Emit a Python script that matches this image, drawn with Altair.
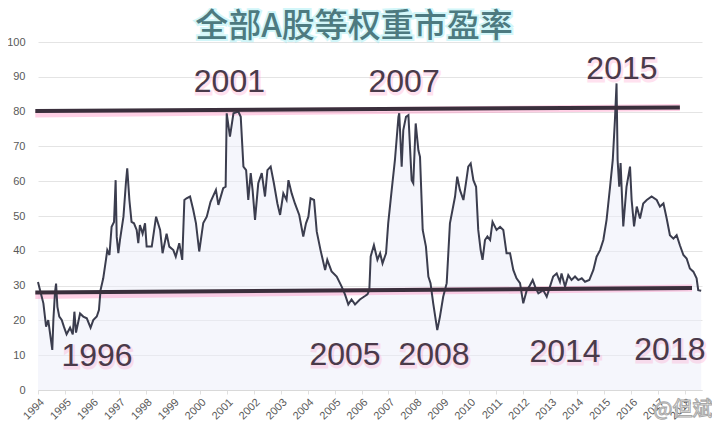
import altair as alt
import pandas as pd

# ---- data ----
years = [
    1994.00, 1994.07, 1994.20, 1994.30, 1994.38, 1994.53, 1994.57, 1994.63, 1994.67, 1994.72,
    1994.79, 1994.88, 1994.96, 1995.06, 1995.19, 1995.29, 1995.35, 1995.41, 1995.56, 1995.68,
    1995.81, 1995.95, 1996.05, 1996.18, 1996.26, 1996.32, 1996.42, 1996.52, 1996.57, 1996.65,
    1996.73, 1996.82, 1996.88, 1996.92, 1996.98, 1997.04, 1997.17, 1997.26, 1997.31, 1997.39,
    1997.47, 1997.56, 1997.66, 1997.72, 1997.78, 1997.88, 1997.97, 1998.03, 1998.22, 1998.38,
    1998.53, 1998.62, 1998.77, 1998.87, 1999.02, 1999.11, 1999.24, 1999.35, 1999.43, 1999.51,
    1999.64, 1999.76, 1999.86, 1999.98, 2000.13, 2000.26, 2000.40, 2000.60, 2000.69, 2000.87,
    2000.96, 2001.00, 2001.12, 2001.25, 2001.43, 2001.52, 2001.62, 2001.72, 2001.80, 2001.89,
    2001.96, 2002.05, 2002.17, 2002.30, 2002.42, 2002.51, 2002.63, 2002.75, 2002.88, 2002.98,
    2003.10, 2003.22, 2003.29, 2003.41, 2003.53, 2003.69, 2003.84, 2003.94, 2004.03, 2004.11,
    2004.24, 2004.34, 2004.48, 2004.65, 2004.73, 2004.89, 2005.08, 2005.26, 2005.39, 2005.51,
    2005.63, 2005.76, 2005.94, 2006.13, 2006.22, 2006.29, 2006.34, 2006.46, 2006.59, 2006.69,
    2006.78, 2006.91, 2006.99, 2007.12, 2007.24, 2007.37, 2007.40, 2007.49, 2007.55, 2007.65,
    2007.74, 2007.86, 2007.92, 2008.01, 2008.11, 2008.17, 2008.27, 2008.39, 2008.48, 2008.56,
    2008.66, 2008.81, 2008.91, 2009.03, 2009.16, 2009.28, 2009.47, 2009.55, 2009.65, 2009.78,
    2009.88, 2009.96, 2010.05, 2010.15, 2010.25, 2010.33, 2010.42, 2010.49, 2010.58, 2010.67,
    2010.77, 2010.86, 2011.01, 2011.14, 2011.26, 2011.38, 2011.51, 2011.63, 2011.75, 2011.88,
    2012.00, 2012.13, 2012.22, 2012.35, 2012.45, 2012.56, 2012.74, 2012.87, 2012.99, 2013.11,
    2013.24, 2013.36, 2013.42, 2013.55, 2013.67, 2013.79, 2013.92, 2014.04, 2014.17, 2014.29,
    2014.45, 2014.60, 2014.72, 2014.85, 2014.97, 2015.09, 2015.22, 2015.32, 2015.40, 2015.46,
    2015.50, 2015.56, 2015.61, 2015.71, 2015.83, 2015.96, 2016.02, 2016.11, 2016.21, 2016.33,
    2016.45, 2016.58, 2016.76, 2016.95, 2017.07, 2017.20, 2017.32, 2017.44, 2017.57, 2017.69,
    2017.81, 2017.94, 2018.06, 2018.18, 2018.31, 2018.43, 2018.49, 2018.60,
]
pe_values = [
    31.0, 28.9, 24.9, 18.2, 20.1, 11.5, 20.1, 28.0, 30.6, 23.9,
    21.1, 20.1, 18.2, 16.0, 17.9, 16.0, 22.5, 16.5, 22.0, 21.1,
    20.6, 17.9, 20.1, 21.1, 23.0, 28.7, 32.1, 37.4, 40.2, 38.8,
    46.9, 48.3, 60.3, 44.0, 39.3, 43.1, 49.8, 59.4, 63.7, 54.6,
    48.3, 47.9, 46.0, 42.2, 47.4, 44.9, 47.9, 41.2, 41.2, 49.8,
    46.0, 39.3, 44.9, 41.2, 40.2, 38.3, 42.2, 37.4, 54.6, 55.1,
    55.6, 51.7, 47.9, 39.8, 48.0, 49.8, 54.1, 57.5, 53.2, 58.0,
    58.4, 79.5, 72.8, 79.5, 80.0, 78.5, 64.2, 63.2, 54.6, 62.3,
    57.5, 48.9, 59.4, 62.3, 55.6, 63.2, 64.2, 59.4, 53.6, 50.3,
    56.5, 54.6, 60.3, 56.5, 53.6, 50.3, 44.1, 47.9, 49.8, 55.1,
    54.6, 45.5, 40.2, 34.5, 37.4, 34.1, 32.6, 29.8, 27.4, 24.6,
    26.0, 24.6, 26.0, 27.0, 27.5, 28.7, 38.4, 41.6, 37.4, 39.3,
    36.4, 39.3, 47.9, 57.5, 66.1, 78.5, 79.5, 64.2, 74.7, 78.5,
    79.0, 60.3, 59.4, 76.6, 68.9, 67.0, 46.0, 41.2, 32.6, 30.7,
    24.9, 17.2, 21.1, 26.8, 30.7, 47.9, 55.6, 61.3, 57.5, 54.6,
    59.8, 64.2, 65.1, 60.3, 58.4, 46.0, 40.2, 37.4, 43.1, 44.1,
    43.1, 48.3, 46.0, 46.9, 46.0, 39.3, 39.3, 34.5, 32.1, 30.7,
    24.9, 28.7, 29.7, 31.6, 29.5, 27.8, 28.7, 26.8, 29.7, 32.6,
    33.5, 31.1, 33.5, 29.7, 33.0, 31.6, 32.6, 31.6, 32.1, 31.1,
    31.6, 34.5, 38.3, 40.2, 43.1, 48.9, 58.4, 66.1, 77.6, 88.1,
    66.1, 58.4, 65.2, 47.0, 58.4, 64.2, 54.6, 47.0, 52.7, 49.3,
    53.6, 54.6, 55.6, 54.6, 52.7, 53.6, 49.3, 44.5, 43.5, 44.5,
    41.6, 38.8, 37.8, 34.9, 34.0, 32.1, 28.7, 28.5,
]

# hand-drawn reference lines (start/end year and value)
ref_x_start = [1993.9, 1993.9]
ref_x_end = [2017.81, 2018.26]
ref_y_start = [80.2, 28.0]
ref_y_end = [81.2, 29.3]

# annotation labels
ann_text = ["1996", "2001", "2007", "2015", "2005", "2008", "2014", "2018"]
ann_year = [1996.19, 2001.10, 2007.58, 2015.66, 2005.39, 2008.69, 2013.55, 2017.44]
ann_value = [9.8, 88.4, 88.4, 92.1, 10.1, 10.1, 10.9, 11.5]

x_ticks = list(range(1994, 2019))
y_ticks = list(range(0, 101, 10))

title_text = "全部A股等权重市盈率"
watermark_text = "@但斌"

# ---- build chart ----
df = pd.DataFrame({"year": years, "pe": pe_values})
ref = pd.DataFrame({"x": ref_x_start, "x2": ref_x_end, "y": ref_y_start, "y2": ref_y_end})
ann = pd.DataFrame({"t": ann_text, "x": ann_year, "y": ann_value})

xs = alt.Scale(domain=[1994, 2018.63], nice=False, zero=False)
ys = alt.Scale(domain=[0, 100], nice=False)

x_axis = alt.Axis(
    values=x_ticks, format="d", labelAngle=-45, labelAlign="right", labelBaseline="top",
    labelColor="#595959", labelFontSize=11, labelFont="Liberation Sans",
    domainColor="#d9d9d9", tickColor="#e0e0e0", tickSize=4, grid=False, title=None,
    labelOverlap=False, labelFlush=False, labelPadding=2, tickCount=25,
)
y_axis = alt.Axis(
    values=y_ticks, domain=False, ticks=False, gridColor="#e4e4e4", labelColor="#595959",
    labelFontSize=11, labelFont="Liberation Sans", labelPadding=13, title=None,
    labelOverlap=False, tickCount=11,
)


def X(field):
    return alt.X(field, scale=xs, axis=x_axis)


def Y(field):
    return alt.Y(field, scale=ys, axis=y_axis)


area = alt.Chart(df).mark_area(color="#eceef9", opacity=0.5).encode(x=X("year:Q"), y=Y("pe:Q"))
line = alt.Chart(df).mark_line(color="#3b3d4e", strokeWidth=2).encode(x=X("year:Q"), y=Y("pe:Q"))

ref_glow = alt.Chart(ref).mark_rule(color="#ff78b4", strokeWidth=7, opacity=0.35, yOffset=3).encode(
    x=X("x:Q"), x2="x2:Q", y=Y("y:Q"), y2="y2:Q"
)
ref_line = alt.Chart(ref).mark_rule(color="#3a2f3c", strokeWidth=4).encode(
    x=X("x:Q"), x2="x2:Q", y=Y("y:Q"), y2="y2:Q"
)

ann_glow = alt.Chart(ann).mark_text(
    fontSize=32, font="Liberation Sans", color="#ff8cc0", stroke="#ff8cc0",
    strokeWidth=3, opacity=0.25, dy=2, dx=1, baseline="middle",
).encode(x=X("x:Q"), y=Y("y:Q"), text="t:N")
ann_label = alt.Chart(ann).mark_text(
    fontSize=32, font="Liberation Sans", color="#4a3a4a", baseline="middle",
).encode(x=X("x:Q"), y=Y("y:Q"), text="t:N")

tdf = pd.DataFrame({"t": [title_text]})
title_glow = alt.Chart(tdf).mark_text(
    fontSize=33, font="Noto Sans CJK SC", fontWeight=500, color="#7fe8f0", stroke="#7fe8f0",
    strokeWidth=4, opacity=0.35, baseline="middle",
).encode(text="t:N", x=alt.value(316), y=alt.value(-15))
title_mark = alt.Chart(tdf).mark_text(
    fontSize=33, font="Noto Sans CJK SC", fontWeight=500, color="#4d7a80", baseline="middle",
).encode(text="t:N", x=alt.value(316), y=alt.value(-15))

wdf = pd.DataFrame({"t": [watermark_text]})
watermark = alt.Chart(wdf).mark_text(
    fontSize=20, font="Noto Sans CJK SC", fill="#ffffff", stroke="#a8a8a8", strokeWidth=1,
    baseline="middle", align="center",
).encode(text="t:N", x=alt.value(645), y=alt.value(368))

chart = alt.layer(
    area, ref_glow, line, ref_line, ann_glow, ann_label, title_glow, title_mark, watermark
).properties(
    width=664, height=348,
    autosize=alt.AutoSizeParams(type="none"),
    padding={"left": 30, "top": 34, "right": 10, "bottom": 34},
    background="#ffffff",
).configure_view(stroke=None)

chart.save("out.html", embed_options={"renderer": "svg", "actions": False})
